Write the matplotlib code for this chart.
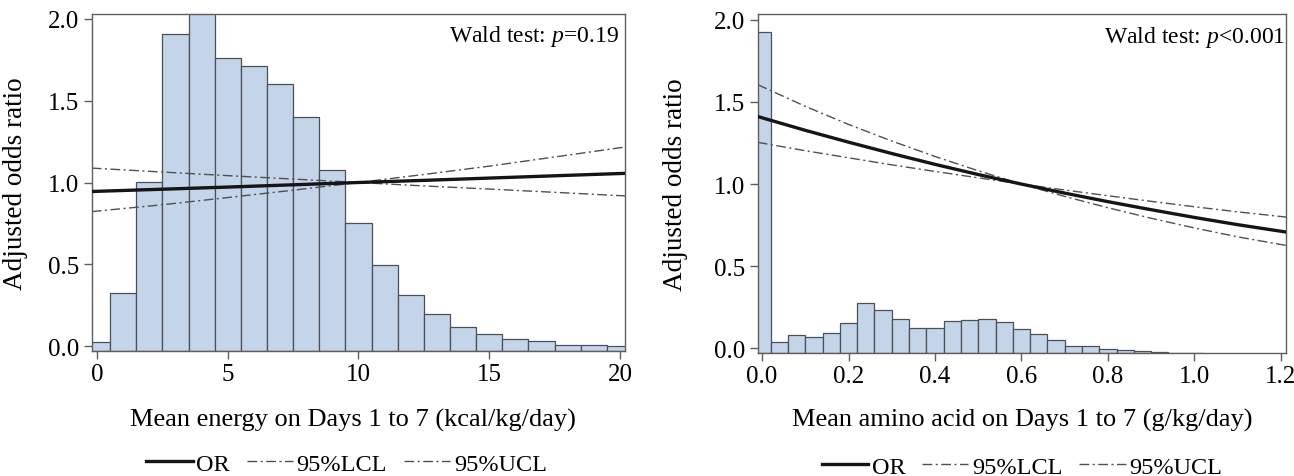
import numpy as np
import matplotlib
matplotlib.use('Agg')
import matplotlib.pyplot as plt

plt.rcParams['font.family'] = ['Liberation Serif', 'DejaVu Serif']
plt.rcParams['mathtext.fontset'] = 'custom'
plt.rcParams['mathtext.it'] = 'Liberation Serif:italic'
plt.rcParams['mathtext.rm'] = 'Liberation Serif'

# Left panel: mean energy (kcal/kg/day)
energy_bins = [0, 1, 2, 3, 4, 5, 6, 7, 8, 9, 10, 11, 12, 13, 14, 15, 16, 17, 18, 19, 20]
energy_hist = [0.027, 0.327, 1.004, 1.91, 2.05, 1.76, 1.71, 1.60, 1.40, 1.078, 0.755,
               0.496, 0.314, 0.196, 0.118, 0.076, 0.041, 0.029, 0.008, 0.008, 0.0]
energy_x = [-0.2, 2.5, 5, 7.5, 10, 12.5, 15, 17.5, 20.2]
energy_or = [0.945, 0.959, 0.972, 0.986, 1.0, 1.013, 1.027, 1.041, 1.056]
energy_lcl = [0.822, 0.864, 0.908, 0.953, 1.0, 1.049, 1.10, 1.156, 1.217]
energy_ucl = [1.088, 1.064, 1.042, 1.021, 1.0, 0.979, 0.960, 0.940, 0.918]

# Right panel: mean amino acid (g/kg/day)
amino_bins = [0.0, 0.04, 0.08, 0.12, 0.16, 0.20, 0.24, 0.28, 0.32, 0.36, 0.40, 0.44, 0.48,
              0.52, 0.56, 0.60, 0.64, 0.68, 0.72, 0.76, 0.80, 0.84, 0.88, 0.92, 0.96, 1.00]
amino_hist = [1.923, 0.037, 0.081, 0.067, 0.093, 0.152, 0.276, 0.235, 0.180, 0.122, 0.122,
              0.168, 0.174, 0.180, 0.158, 0.120, 0.089, 0.049, 0.016, 0.012, -0.002,
              -0.010, -0.018, -0.024, -0.025, -0.026]
amino_x = [-0.01, 0.1, 0.2, 0.3, 0.4, 0.5, 0.6, 0.7, 0.8, 0.9, 1.0, 1.1, 1.22]
amino_or = [1.411, 1.327, 1.255, 1.186, 1.120, 1.058, 1.0, 0.945, 0.893, 0.844, 0.797, 0.753, 0.705]
amino_lcl = [1.254, 1.203, 1.160, 1.117, 1.077, 1.038, 1.0, 0.964, 0.929, 0.895, 0.862, 0.831, 0.797]
amino_ucl = [1.605, 1.473, 1.363, 1.262, 1.168, 1.081, 1.0, 0.925, 0.856, 0.792, 0.733, 0.679, 0.623]

labels = ['OR', '95%LCL', '95%UCL']
wald = [r'Wald test: $p$=0.19', r'Wald test: $p$<0.001']

BAR_FC = '#c4d4e9'
BAR_EC = '#4b5058'
SPINE = '#5e5e5e'
CI_DASH = (0, (7, 2.5, 1.5, 2.5))

fig = plt.figure(figsize=(12.94, 4.77), dpi=100)
ax1 = fig.add_axes([92 / 1294, 1 - 352 / 477, 533 / 1294, 337 / 477])
ax2 = fig.add_axes([758 / 1294, 1 - 354 / 477, 528 / 1294, 339 / 477])


def draw_panel(ax, bins, hist, width, x, orr, lcl, ucl, xlim, ylim, xticks, xfmt, xlabel, text, text_x, leg_x):
    ax.set_xlim(*xlim)
    ax.set_ylim(*ylim)
    heights = np.array(hist) - ylim[0]
    ax.bar(bins, heights, width=width, bottom=ylim[0], color=BAR_FC, edgecolor=BAR_EC,
           linewidth=0.9, zorder=1)
    h_or, = ax.plot(x, orr, color='#151515', lw=2.4, zorder=3)
    h_l, = ax.plot(x, lcl, color='#505050', lw=1.0, linestyle=CI_DASH, zorder=2)
    h_u, = ax.plot(x, ucl, color='#505050', lw=1.0, linestyle=CI_DASH, zorder=2)

    ax.set_yticks([0.0, 0.5, 1.0, 1.5, 2.0])
    ax.set_yticklabels(['%.1f' % v for v in [0.0, 0.5, 1.0, 1.5, 2.0]])
    ax.set_xticks(xticks)
    ax.set_xticklabels([xfmt % v for v in xticks])
    ax.tick_params(direction='out', length=6, width=1, color=SPINE, labelsize=18, pad=3)
    for s in ax.spines.values():
        s.set_color(SPINE)
        s.set_linewidth(1.0)

    ax.set_ylabel('Adjusted odds ratio', fontsize=19.5)
    ax.set_xlabel(xlabel, fontsize=19)
    ax.text(text_x, 0.935, text, transform=ax.transAxes, ha='right', va='center', fontsize=17)

    leg = ax.legend([h_or, h_l, h_u], labels, loc='center', bbox_to_anchor=(leg_x, -0.335),
                    ncol=3, frameon=False, fontsize=17.5, handlelength=1.9, handletextpad=0.15,
                    columnspacing=0.7, borderpad=0, borderaxespad=0)
    return leg


draw_panel(ax1, energy_bins, energy_hist, 1.0, energy_x, energy_or, energy_lcl, energy_ucl,
           (-0.19, 20.19), (-0.03, 2.03), [0, 5, 10, 15, 20], '%d',
           'Mean energy on Days 1 to 7 (kcal/kg/day)', wald[0], 0.988, 0.478)
draw_panel(ax2, amino_bins, amino_hist, 0.04, amino_x, amino_or, amino_lcl, amino_ucl,
           (-0.0095, 1.212), (-0.028, 2.035), [0.0, 0.2, 0.4, 0.6, 0.8, 1.0, 1.2], '%.1f',
           'Mean amino acid on Days 1 to 7 (g/kg/day)', wald[1], 0.998, 0.5)

ax1.yaxis.set_label_coords(-0.12, 0.5)
ax2.yaxis.set_label_coords(-0.132, 0.5)
ax1.xaxis.set_label_coords(0.49, -0.168)
ax2.xaxis.set_label_coords(0.5, -0.162)

fig.savefig('out.png', dpi=100)
